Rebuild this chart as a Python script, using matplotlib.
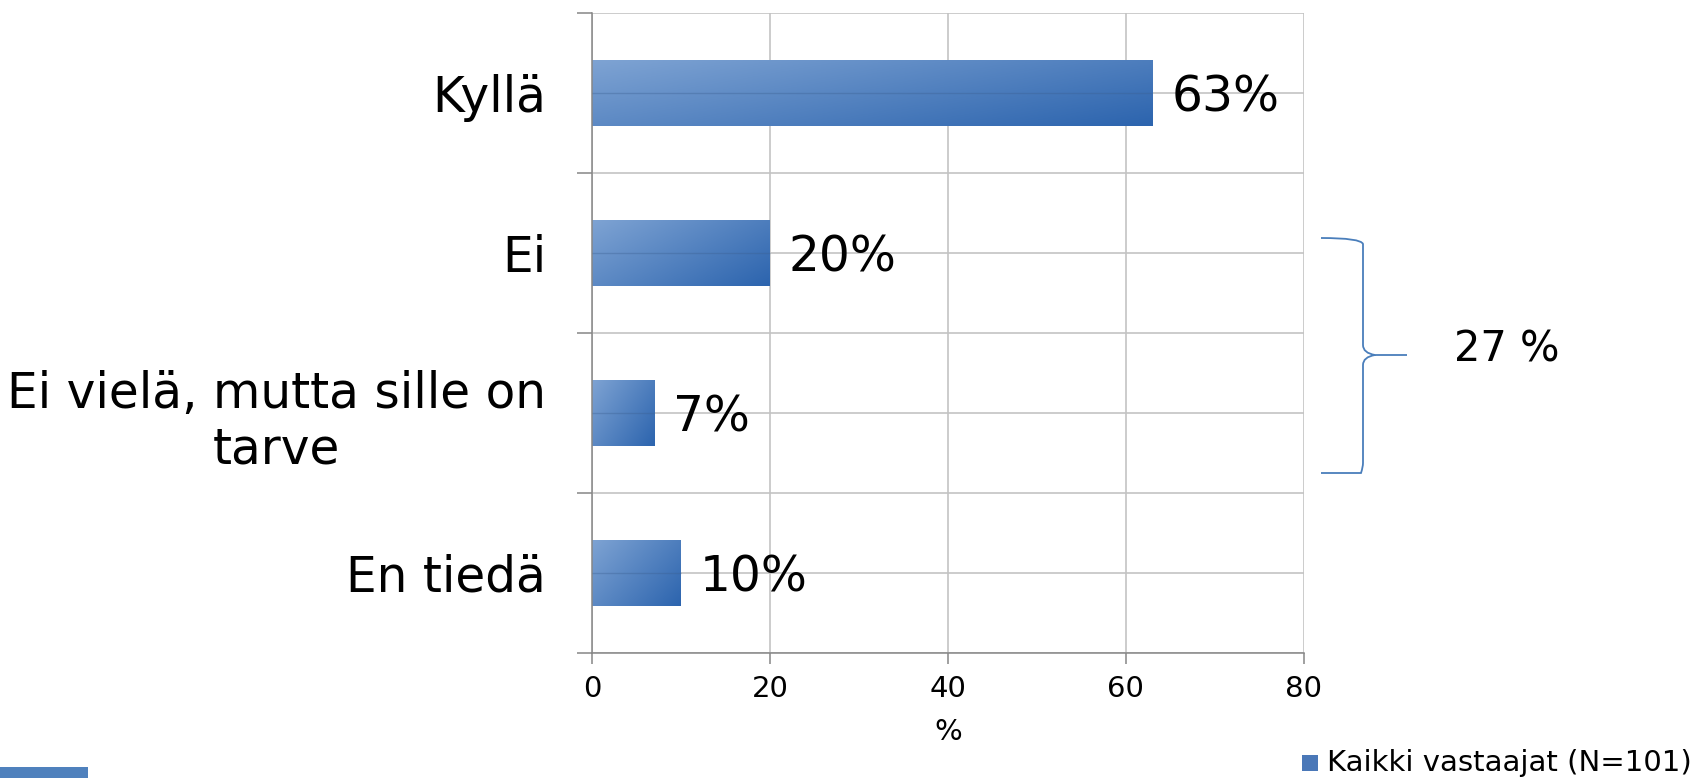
import numpy as np
import matplotlib.pyplot as plt
from matplotlib.colors import LinearSegmentedColormap
from matplotlib.path import Path
from matplotlib.patches import PathPatch, Rectangle

categories = ["Kyllä", "Ei", "Ei vielä, mutta sille on\ntarve", "En tiedä"]
values = [63, 20, 7, 10]
value_labels = ["63%", "20%", "7%", "10%"]
x_ticks = [0, 20, 40, 60, 80]
series_name = "Kaikki vastaajat (N=101)"
group_label = "27 %"

plt.rcParams['font.family'] = ['DejaVu Sans']

fig = plt.figure(figsize=(17.04, 7.78), dpi=100)
ax = fig.add_axes([0.3474, 0.161, 0.4177, 0.822])

ypos = np.arange(len(categories))
bars = ax.barh(ypos, values, height=0.41, color='#4f81bd', zorder=2)

# diagonal gradient fill like the office chart
grad_cmap = LinearSegmentedColormap.from_list('g', ['#7ea3d3', '#2c64ae'])
for b in bars:
    x0, y0 = b.get_x(), b.get_y()
    w, h = b.get_width(), b.get_height()
    u = np.linspace(0, 1, 200)[None, :]
    v = np.linspace(0, 1, 60)[:, None]
    g = 0.6 * u + 0.4 * v
    im = ax.imshow(g, cmap=grad_cmap, extent=(x0, x0 + w, y0 + h, y0),
                   aspect='auto', zorder=2.5, interpolation='bilinear')
    im.set_clip_path(b)

# faint grid line showing through the bars
ax.hlines(ypos, 0, values, color='#3b5f90', lw=1.0, alpha=0.35, zorder=3)

for y, v, lab in zip(ypos, values, value_labels):
    ax.text(v + 2.1, y + 0.03, lab, fontsize=35, va='center', ha='left', zorder=4)

ax.set_xlim(0, 80)
ax.set_ylim(len(categories) - 0.5, -0.5)
ax.set_xticks(x_ticks)
ax.set_xticklabels([str(t) for t in x_ticks], fontsize=21)
ax.set_yticks(ypos)
ax.set_yticklabels(categories, fontsize=35, multialignment='center')
ax.set_yticks(np.arange(-0.5, len(categories)), minor=True)
ax.tick_params(axis='y', which='major', length=0, pad=33)
ax.tick_params(axis='y', which='minor', length=11, width=1.1, color='#868686', direction='out')
ax.tick_params(axis='x', which='major', length=8, width=1.1, color='#868686', direction='out', pad=8)
ax.set_xlabel('%', fontsize=21, labelpad=11)

ax.grid(True, axis='x', which='major', color='#c3c3c3', lw=1.2, zorder=0)
ax.grid(True, axis='y', which='both', color='#c3c3c3', lw=1.2, zorder=0)
ax.set_axisbelow(True)
for s in ['top', 'right']:
    ax.spines[s].set_visible(False)
for s in ['left', 'bottom']:
    ax.spines[s].set_color('#868686')
    ax.spines[s].set_linewidth(1.1)

# curly brace spanning the "Ei" and "Ei vielä" rows
W, H = 1704, 778
def fx(px):
    return px / W
def fy(py):
    return 1 - py / H
xa, xb, xc = 1321, 1363, 1407
ytop, ymid, ybot = 238, 355, 473
verts = [(xa, ytop), (xb - 2, ytop), (xb, ytop + 6), (xb, ytop + 10),
         (xb, ymid - 10), (xb, ymid - 2), (xb + 12, ymid), (xc, ymid),
         (xb + 12, ymid), (xb, ymid + 2), (xb, ymid + 10),
         (xb, ybot - 10), (xb, ybot - 6), (xb - 2, ybot), (xa, ybot)]
codes = [Path.MOVETO, Path.CURVE3, Path.CURVE3, Path.LINETO,
         Path.LINETO, Path.CURVE3, Path.CURVE3, Path.LINETO,
         Path.MOVETO, Path.CURVE3, Path.CURVE3,
         Path.LINETO, Path.CURVE3, Path.CURVE3, Path.LINETO]
brace = Path([(fx(a), fy(b)) for a, b in verts], codes)
fig.add_artist(PathPatch(brace, transform=fig.transFigure, fill=False,
                         edgecolor='#4a7ebb', lw=1.3))
fig.text(fx(1454), fy(350), group_label, fontsize=30, va='center', ha='left')

# legend
fig.add_artist(Rectangle((fx(1302), fy(771)), 16 / W, 16 / H, transform=fig.transFigure,
                         facecolor='#4a78b8', edgecolor='none'))
fig.text(fx(1327), fy(763), series_name, fontsize=21, va='center', ha='left')

# slide decoration bottom-left
fig.add_artist(Rectangle((0, 0), 88 / W, 11 / H, transform=fig.transFigure,
                         facecolor='#4f81bd', edgecolor='none'))

fig.savefig('out.png', dpi=100)
